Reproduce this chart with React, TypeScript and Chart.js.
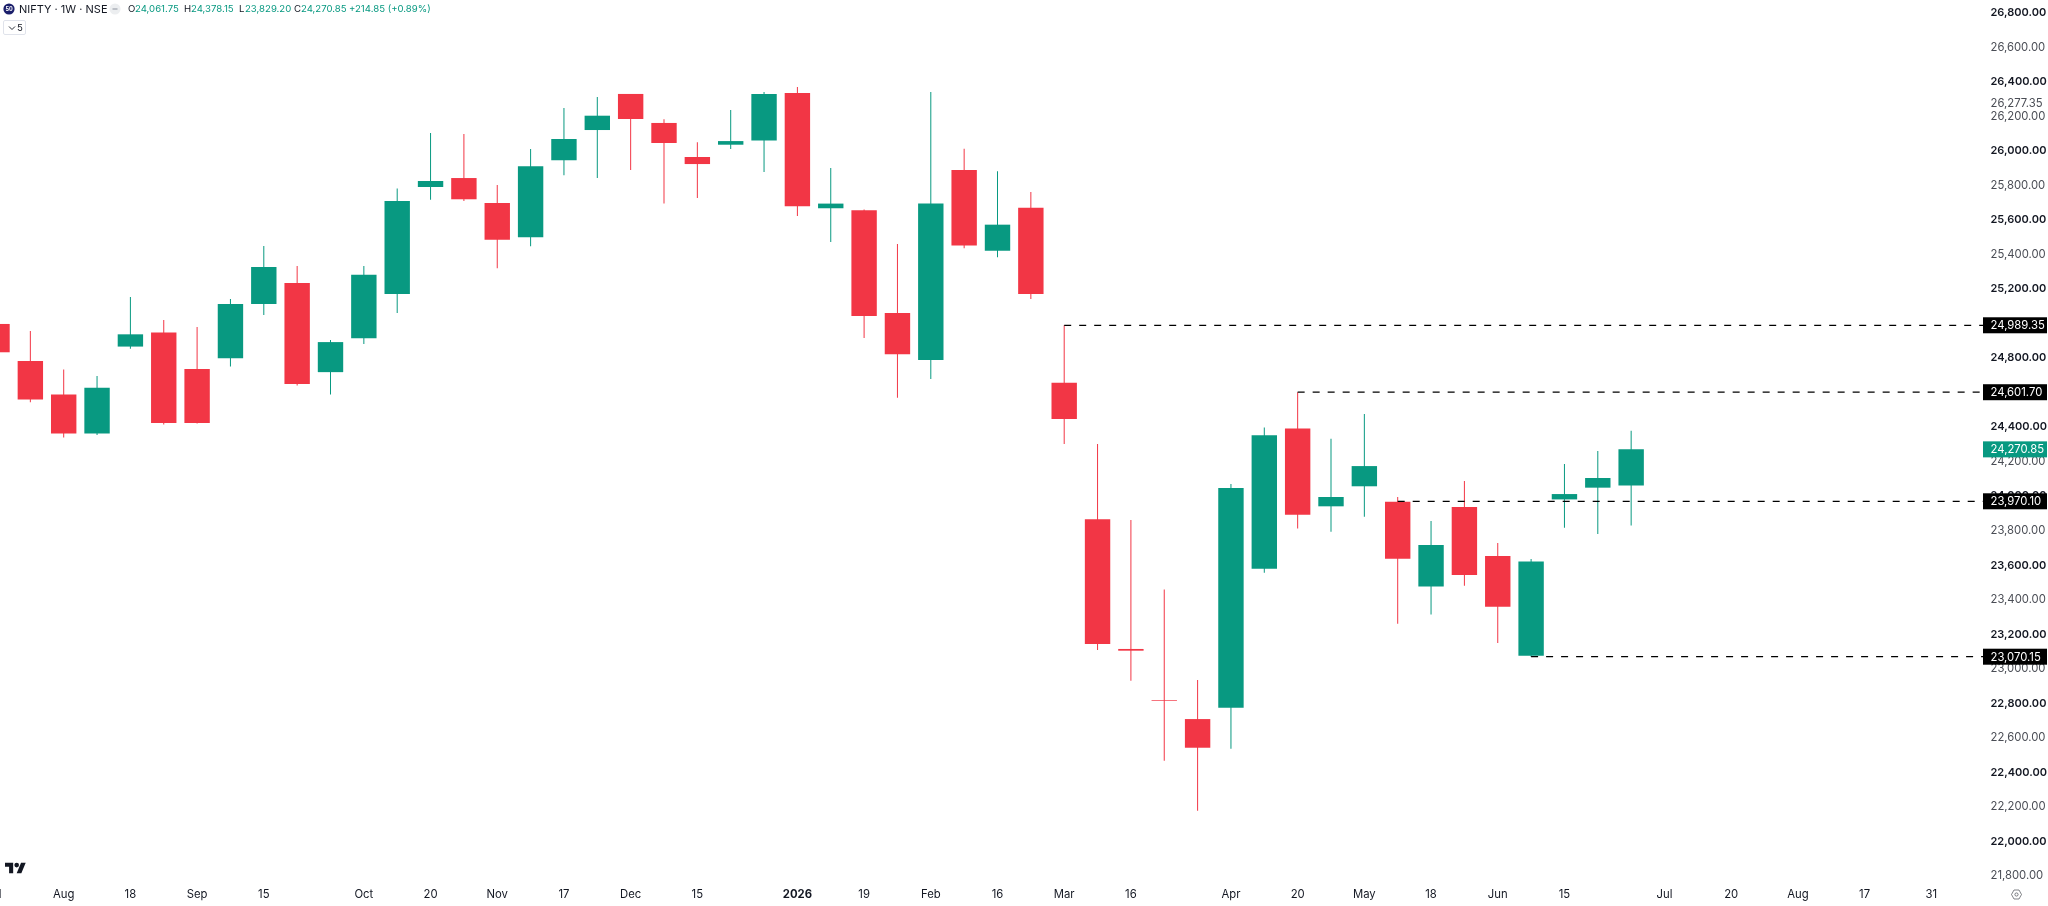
import React, { useEffect, useRef } from "react";
import { Chart, registerables } from "chart.js";

Chart.register(...registerables);

const opens = [24997, 24782, 24589, 24362, 24866, 24948, 24736, 24798, 25113, 25234, 24718, 24914, 25171, 25790, 25842, 25697, 25499, 25945, 26120, 26329, 26161, 25964, 26035, 26060, 26334, 25667, 25655, 25060, 24788, 25889, 25421, 25670, 24657, 23866, 23115, 22819, 22709, 22775, 23580, 24392, 23941, 24057, 23968, 23476, 23937, 23653, 23075, 23981, 24049, 24061.75];
const closes = [24833, 24559, 24362, 24627, 24937, 24423, 24423, 25113, 25327, 24649, 24892, 25282, 25709, 25825, 25719, 25485, 25910, 26068, 26203, 26184, 26045, 25923, 26056, 26329, 25678, 25694, 25043, 24821, 25694, 25451, 25572, 25171, 24447, 23144, 23105, 22815, 22543, 24047, 24352, 23892, 23995, 24174, 23638, 23717, 23543, 23360, 23621, 24012, 24105, 24270.85];
const highs = [25050, 24956, 24733, 24695, 25153, 25020, 24979, 25141, 25448, 25333, 24904, 25333, 25782, 26103, 26097, 25802, 26010, 26248, 26311, 26329, 26182, 26049, 26236, 26340, 26369, 25900, 25660, 25460, 26340, 26011, 25882, 25761, 24989.35, 24302, 23862, 23460, 22935, 24070, 24398, 24601.7, 24332, 24476, 23995, 23856, 24087, 23728, 23636, 24186, 24261, 24378.15];
const lows = [24780, 24544, 24339, 24354, 24854, 24415, 24420, 24750, 25049, 24640, 24589, 24881, 25060, 25717, 25709, 25319, 25447, 25858, 25842, 25889, 25694, 25726, 26010, 25877, 25622, 25472, 24916, 24570, 24678, 25436, 25383, 25141, 24302, 23109, 22931, 22468, 22178, 22537, 23556, 23813, 23794, 23881, 23261, 23315, 23481, 23149, 23070.15, 23817, 23780, 23829.2];

const timeTickIndex = [-0.1, 2, 4, 6, 8, 11, 13, 15, 17, 19, 21, 24, 26, 28, 30, 32, 34, 37, 39, 41, 43, 45, 47, 50, 52, 54, 56, 58];
const timeTickLabel = ["Jul", "Aug", "18", "Sep", "15", "Oct", "20", "Nov", "17", "Dec", "15", "2026", "19", "Feb", "16", "Mar", "16", "Apr", "20", "May", "18", "Jun", "15", "Jul", "20", "Aug", "17", "31"];

const priceTicks = [21800, 22000, 22200, 22400, 22600, 22800, 23000, 23200, 23400, 23600, 23800, 24000, 24200, 24400, 24600, 24800, 25000, 25200, 25400, 25600, 25800, 26000, 26200, 26400, 26600, 26800];

const levelPrices = [24989.35, 24601.7, 23970.1, 23070.15];
const levelStarts = [32, 39, 42, 46];
const lastPrice = 24270.85;
const plainPrice = 26277.35;

const GREEN = "#089981";
const RED = "#F23645";
const FONT = "Inter";
const fmt = (v: number) =>
  v.toLocaleString("en-US", { minimumFractionDigits: 2, maximumFractionDigits: 2 });

const levelLabels = {
  id: "levelLabels",
  afterDraw(chart: any) {
    const { ctx, scales } = chart;
    const y = scales.y;
    const box = (price: number, bg: string) => {
      const py = y.getPixelForValue(price);
      ctx.save();
      ctx.fillStyle = bg;
      ctx.fillRect(1983, py - 8, 64, 16);
      ctx.fillStyle = "#ffffff";
      ctx.font = `11.3px ${FONT}`;
      ctx.textAlign = "left";
      ctx.textBaseline = "middle";
      ctx.fillText(fmt(price), 1990.5, py + 0.5);
      ctx.restore();
    };
    ctx.save();
    ctx.fillStyle = "#4a4d55";
    ctx.font = `11.3px ${FONT}`;
    ctx.textAlign = "left";
    ctx.textBaseline = "middle";
    ctx.fillText(fmt(plainPrice), 1990.5, y.getPixelForValue(plainPrice) + 0.5);
    ctx.restore();
    levelPrices.forEach((p) => box(p, "#000000"));
    box(lastPrice, GREEN);
  },
};

export default function App() {
  const ref = useRef<HTMLCanvasElement | null>(null);
  useEffect(() => {
    const idx = opens.map((_, i) => i);
    const colors = idx.map((i) => (closes[i] >= opens[i] ? GREEN : RED));
    const lineData = levelPrices.map((p, i) => ({
      type: "line" as const,
      data: [
        { x: levelStarts[i], y: p },
        { x: 60, y: p },
      ],
      borderColor: "#000000",
      borderWidth: 1.2,
      borderDash: [7, 8],
      pointRadius: 0,
      order: 1,
    }));
    const chart = new Chart(ref.current as HTMLCanvasElement, {
      type: "bar",
      data: {
        datasets: [
          ...lineData,
          {
            type: "bar",
            data: idx.map((i) => ({ x: i, y: [opens[i], closes[i]] })),
            backgroundColor: colors,
            grouped: false,
            categoryPercentage: 1,
            barPercentage: 25.4 / 33.35,
            order: 2,
          },
          {
            type: "bar",
            data: idx.map((i) => ({ x: i, y: [lows[i], highs[i]] })),
            backgroundColor: colors,
            grouped: false,
            categoryPercentage: 1,
            barPercentage: 1 / 33.35,
            order: 3,
          },
        ] as any,
      },
      options: {
        responsive: false,
        animation: false,
        devicePixelRatio: 1,
        layout: { padding: 0 },
        plugins: { legend: { display: false }, tooltip: { enabled: false } },
        events: [],
        scales: {
          x: {
            type: "linear",
            offset: false,
            min: 0.09,
            max: 0.09 + 1983 / 33.35,
            grid: { display: false, drawTicks: false, offset: false },
            border: { display: false },
            afterBuildTicks: (s: any) => {
              s.ticks = timeTickIndex.map((v) => ({ value: v }));
            },
            afterFit: (s: any) => {
              s.height = 23;
              s.paddingLeft = 0;
              s.paddingRight = 0;
            },
            ticks: {
              autoSkip: false,
              maxRotation: 0,
              padding: 5,
              color: "#131722",
              font: (c: any) => {
                const label = c.tick ? timeTickLabel[timeTickIndex.indexOf(c.tick.value)] : "";
                return { family: FONT, size: 11.3, weight: label === "2026" ? 700 : 400 };
              },
              callback: (v: any) => timeTickLabel[timeTickIndex.indexOf(v)] ?? "",
            },
          },
          y: {
            type: "linear",
            position: "right",
            min: 21759.7,
            max: 26873,
            grid: { display: false, drawTicks: false },
            border: { display: false },
            afterBuildTicks: (s: any) => {
              s.ticks = priceTicks.map((v) => ({ value: v }));
            },
            afterFit: (s: any) => {
              s.width = 65;
              s.paddingTop = 0;
              s.paddingBottom = 0;
            },
            ticks: {
              autoSkip: false,
              padding: 7.5,
              color: (c: any) => (c.tick && c.tick.value % 400 === 0 ? "#131722" : "#4a4d55"),
              font: (c: any) => ({
                family: FONT,
                size: c.tick && c.tick.value % 400 === 0 ? 11 : 11.3,
                weight: c.tick && c.tick.value % 400 === 0 ? 600 : 400,
              }),
              callback: (v: any) => fmt(v),
            },
          },
        },
      },
      plugins: [levelLabels],
    } as any);
    return () => chart.destroy();
  }, []);

  const legendBase: React.CSSProperties = {
    position: "absolute",
    top: 3,
    fontFamily: FONT,
    fontSize: 9.6,
    lineHeight: "12px",
    whiteSpace: "nowrap",
  };
  const legendItems: [string, number, string][] = [
    ["O", 128, "#131722"],
    ["24,061.75", 135, GREEN],
    ["H", 184, "#131722"],
    ["24,378.15", 191, GREEN],
    ["L", 239, "#131722"],
    ["23,829.20", 245, GREEN],
    ["C", 294, "#131722"],
    ["24,270.85", 301, GREEN],
    ["+214.85 (+0.89%)", 349, GREEN],
  ];

  return (
    <div style={{ position: "fixed", left: 0, top: 0, width: 2048, height: 906, background: "#ffffff", overflow: "hidden" }}>
      <canvas ref={ref} width={2048} height={906} style={{ display: "block", width: 2048, height: 906 }} />
      <svg width="12" height="12" style={{ position: "absolute", left: 3, top: 3 }}>
        <circle cx="6" cy="6" r="5.6" fill="#1b1f6b" />
        <text x="6" y="8" textAnchor="middle" fontSize="5.5" fontWeight="700" fontFamily={FONT} fill="#ffffff">50</text>
      </svg>
      <div style={{ ...legendBase, left: 19, fontSize: 11, color: "#131722" }}>NIFTY · 1W · NSE</div>
      <svg width="12" height="12" style={{ position: "absolute", left: 109, top: 3 }}>
        <circle cx="6" cy="6" r="5.5" fill="#eceef0" />
        <rect x="3.5" y="5.3" width="5" height="1.4" fill="#a9adb5" />
      </svg>
      {legendItems.map(([t, x, c], i) => (
        <div key={i} style={{ ...legendBase, left: x, color: c }}>{t}</div>
      ))}
      <div style={{ position: "absolute", left: 3, top: 20, width: 21, height: 13, border: "1px solid #e0e3eb", borderRadius: 2, boxSizing: "content-box" }}>
        <svg width="8" height="6" style={{ position: "absolute", left: 4, top: 4 }}>
          <path d="M1 1.5 L4 4.5 L7 1.5" fill="none" stroke="#131722" strokeWidth="0.9" />
        </svg>
        <span style={{ position: "absolute", left: 13, top: 0, fontFamily: FONT, fontSize: 9.6, lineHeight: "13px", color: "#131722" }}>5</span>
      </div>
      <svg width="21" height="12" viewBox="0 3 36 20" style={{ position: "absolute", left: 5, top: 862 }}>
        <path d="M14 22H7V11H0V4h14v18zM28 22h-8l7.5-18h8L28 22z" fill="#131722" />
        <circle cx="20" cy="8" r="4" fill="#131722" />
      </svg>
      <svg width="11" height="11" viewBox="0 0 11 11" style={{ position: "absolute", left: 2011, top: 889 }}>
        <path d="M3 1 H8 L10.5 5.5 L8 10 H3 L0.5 5.5 Z" fill="none" stroke="#4a4d55" strokeWidth="0.7" />
        <circle cx="5.5" cy="5.5" r="1.6" fill="none" stroke="#4a4d55" strokeWidth="0.7" />
      </svg>
    </div>
  );
}
